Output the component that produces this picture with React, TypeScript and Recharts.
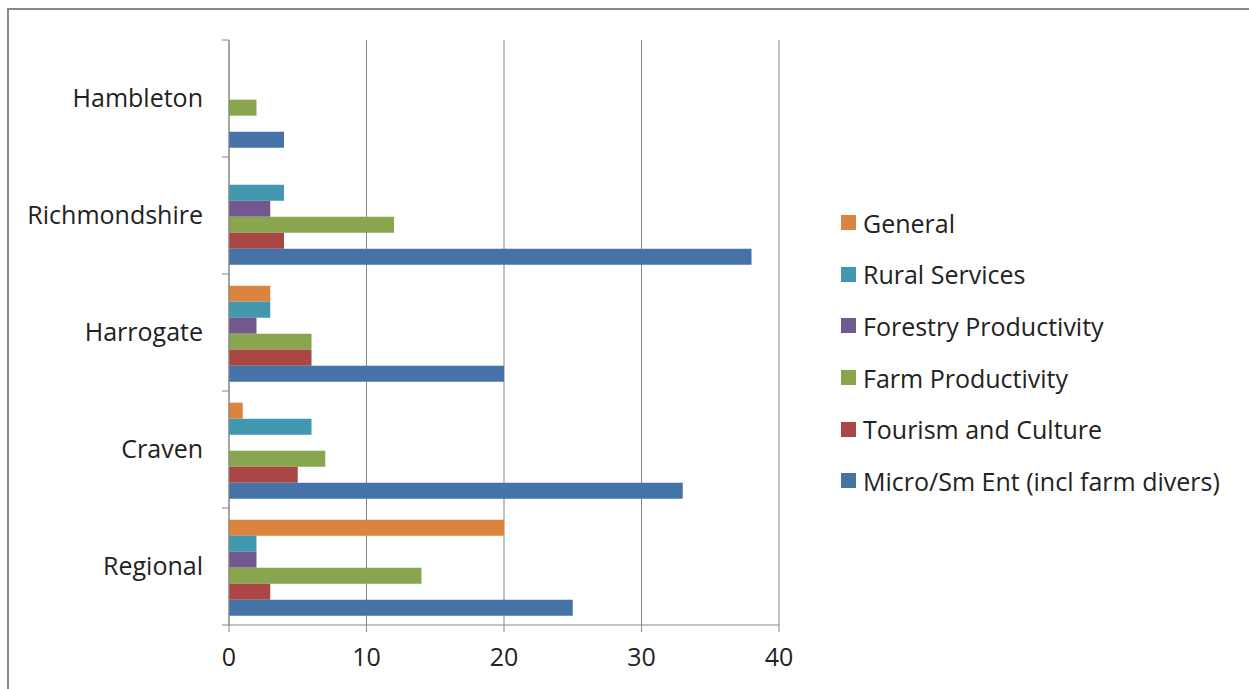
import React from "react";
import { Bar, BarChart, CartesianGrid, XAxis, YAxis } from "recharts";

const categories = ["Hambleton", "Richmondshire", "Harrogate", "Craven", "Regional"];
const general = [0, 0, 3, 1, 20];
const ruralServices = [0, 4, 3, 6, 2];
const forestryProductivity = [0, 3, 2, 0, 2];
const farmProductivity = [2, 12, 6, 7, 14];
const tourismCulture = [0, 4, 6, 5, 3];
const microSmEnt = [4, 38, 20, 33, 25];
const xTicks = [0, 10, 20, 30, 40];

const series = [
  { key: "general", label: "General", color: "#DB843D", values: general },
  { key: "rural", label: "Rural Services", color: "#4198AF", values: ruralServices },
  { key: "forestry", label: "Forestry Productivity", color: "#71588F", values: forestryProductivity },
  { key: "farm", label: "Farm Productivity", color: "#89A54E", values: farmProductivity },
  { key: "tourism", label: "Tourism and Culture", color: "#AA4643", values: tourismCulture },
  { key: "micro", label: "Micro/Sm Ent (incl farm divers)", color: "#4572A7", values: microSmEnt },
];

const data = categories.map((name, i) => {
  const row: Record<string, number | string> = { name };
  series.forEach((s) => (row[s.key] = s.values[i]));
  return row;
});

const W = 1249;
const H = 689;
const Y_AXIS_W = 200;
const MARGIN = { top: 40, right: 470, bottom: 24, left: 29 };
const X_AXIS_H = 40;
const PLOT_LEFT = MARGIN.left + Y_AXIS_W;
const PLOT_H = H - MARGIN.top - MARGIN.bottom - X_AXIS_H;
const BAND = PLOT_H / categories.length;
const FONT = "'Open Sans', sans-serif";
const FONT_SIZE = 25;
const AXIS_COLOR = "#868686";

// Excel puts category ticks between the bands, not on them
function CategoryTick(props: any) {
  const { payload, index } = props;
  const y = payload.coordinate;
  return (
    <g>
      <line x1={PLOT_LEFT - 7} x2={PLOT_LEFT} y1={y - BAND / 2} y2={y - BAND / 2} stroke={AXIS_COLOR} />
      {index === categories.length - 1 && (
        <line x1={PLOT_LEFT - 7} x2={PLOT_LEFT} y1={y + BAND / 2} y2={y + BAND / 2} stroke={AXIS_COLOR} />
      )}
      <text x={PLOT_LEFT - 26} y={y} dy="0.355em" textAnchor="end" fill="#222" fontSize={FONT_SIZE} fontFamily={FONT}>
        {payload.value}
      </text>
    </g>
  );
}

function LegendBox() {
  return (
    <div
      style={{
        position: "absolute",
        left: 841,
        top: 197,
        fontFamily: FONT,
        fontSize: FONT_SIZE,
        color: "#222",
        whiteSpace: "nowrap",
      }}
    >
      {series.map((s) => (
        <div key={s.key} style={{ display: "flex", alignItems: "center", height: 51.6 }}>
          <span style={{ width: 15, height: 15, background: s.color, marginRight: 7, display: "inline-block" }} />
          <span>{s.label}</span>
        </div>
      ))}
    </div>
  );
}

export default function App() {
  return (
    <div style={{ position: "fixed", left: 0, top: 0, width: W, height: H, overflow: "hidden", background: "#fff" }}>
      <div
        style={{
          position: "absolute",
          left: 7,
          top: 8,
          width: 1280,
          height: 720,
          border: "2px solid #888",
        }}
      />
      <div style={{ position: "absolute", left: 0, top: 0 }}>
        <BarChart
          width={W}
          height={H}
          data={data}
          layout="vertical"
          margin={MARGIN}
          barCategoryGap="10%"
          barGap={0}
        >
          <CartesianGrid horizontal={false} stroke={AXIS_COLOR} strokeWidth={1} />
          <XAxis
            type="number"
            domain={[0, 40]}
            ticks={xTicks}
            height={X_AXIS_H}
            tickSize={7}
            tickMargin={16}
            stroke={AXIS_COLOR}
            tick={{ fill: "#222", fontSize: FONT_SIZE, fontFamily: FONT }}
          />
          <YAxis
            type="category"
            dataKey="name"
            width={Y_AXIS_W}
            tickLine={false}
            stroke={AXIS_COLOR}
            tick={<CategoryTick />}
            interval={0}
          />
          {series.map((s) => (
            <Bar key={s.key} dataKey={s.key} name={s.label} fill={s.color} isAnimationActive={false} />
          ))}
        </BarChart>
      </div>
      <LegendBox />
    </div>
  );
}
